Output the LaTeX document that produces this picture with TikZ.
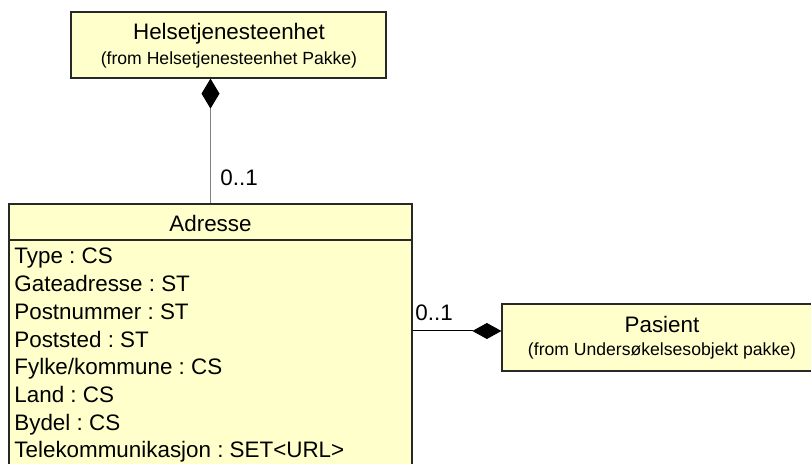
\documentclass[tikz,border=0pt]{standalone}
\usepackage{fontspec}
\setmainfont{Liberation Sans}
\usetikzlibrary{arrows.meta}
\frenchspacing

\definecolor{umlfill}{RGB}{255,255,204}
\definecolor{umlline}{RGB}{40,40,40}
\newcommand{\bigtxt}{\fontsize{11.2}{13}\selectfont}
\newcommand{\smalltxt}{\fontsize{8.8}{10.5}\selectfont}

\begin{document}
\begin{tikzpicture}[x=0.5pt,y=-0.5pt]
            \tikzstyle{classbox}=[draw=umlline, fill=umlfill, line width=0.6pt, inner sep=0pt];
            \tikzstyle{title}=[font=\bigtxt, inner sep=0pt, anchor=base];
            \tikzstyle{from}=[font=\smalltxt, inner sep=0pt, anchor=base];
            \tikzstyle{attr}=[font=\bigtxt, inner sep=0pt, anchor=base west];
            \useasboundingbox (0,0) rectangle (811,464);
            \clip (0,0) rectangle (811,464);

            % classes
            \node[classbox, minimum width=157.5pt, minimum height=33pt] (helset) at (228.5,45) {};
            \node[title] (helsetname) at (229,40) {Helsetjenesteenhet};
            \node[from] (helsetfrom) at (229,65) {(from Helsetjenesteenhet Pakke)};

            \node[classbox, minimum width=201.5pt, minimum height=158pt] (adresse) at (210.5,362) {};
            \node[title] (adressename) at (210.5,232) {Adresse};
            \coordinate (hdr) at (0,240);
            \draw[umlline, line width=0.6pt] (adresse.west |- hdr) -- (adresse.east |- hdr);
            \foreach \a [count=\i from 0] in {Type : CS, Gateadresse : ST, Postnummer : ST,
                Poststed : ST, Fylke/kommune : CS, Land : CS, Bydel : CS,
                Telekommunikasjon : SET<URL>}
                \node[attr] (attr\i) at (14,{264+27.7*\i}) {\a};

            \node[classbox, minimum width=160pt, minimum height=33.5pt] (pasient) at (662,337.5) {};
            \node[title] (pasientname) at (662,333) {Pasient};
            \node[from] (pasientfrom) at (662,356) {(from Undersøkelsesobjekt pakke)};

            % compositions
            \draw[gray, line width=0.5pt, -{Diamond[black, length=15pt, width=9pt]}]
                (adresse.north) -- (adresse.north |- helset.south);
            \node[attr] (multtop) at (220,186) {0..1};

            \coordinate (pjoin) at ([yshift=3.25pt]pasient.west);
            \draw[line width=0.5pt, -{Diamond[length=14.5pt, width=8pt]}]
                (adresse.east |- pjoin) -- (pjoin);
            \node[attr] (multright) at (415,321) {0..1};
\end{tikzpicture}
\end{document}
